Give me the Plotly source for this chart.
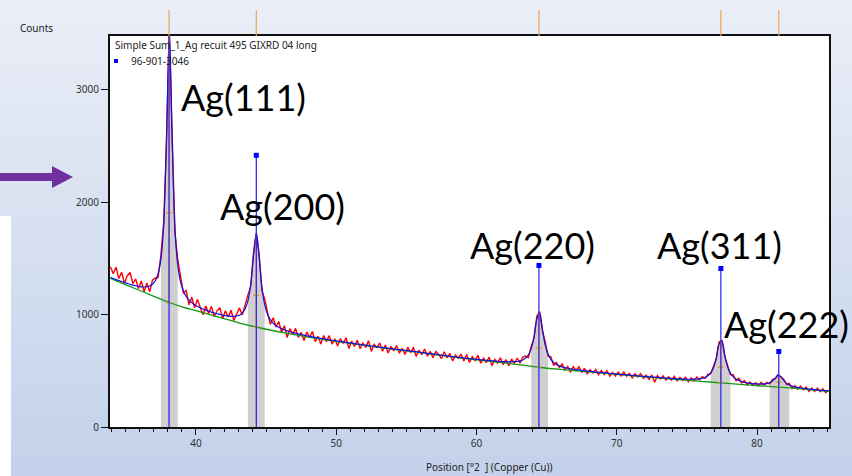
import numpy as np
import plotly.graph_objects as go

# scan grid, 2theta in degrees
two_theta = np.round(33.9 + 0.2 * np.arange(257), 2)

counts = [
    1427, 1364, 1422, 1321, 1377, 1277, 1346, 1375, 1277, 1317,
    1232, 1299, 1203, 1279, 1204, 1307, 1327, 1330, 1530, 1825,
    2544, 3536, 2596, 1733, 1489, 1359, 1194, 1214, 1087, 1155,
    1062, 1134, 1070, 999, 1077, 1011, 1074, 981, 1034, 1062,
    964, 1034, 979, 1039, 948, 1013, 1060, 998, 1094, 1174,
    1251, 1546, 1718, 1542, 1211, 1140, 1021, 913, 973, 890,
    939, 842, 902, 796, 874, 824, 878, 797, 843, 770,
    846, 798, 850, 760, 807, 738, 815, 760, 813, 738,
    785, 721, 787, 743, 794, 698, 766, 716, 773, 698,
    746, 708, 768, 673, 735, 706, 748, 674, 730, 658,
    718, 677, 725, 657, 699, 645, 710, 662, 710, 627,
    684, 643, 694, 630, 673, 616, 672, 646, 608, 670,
    616, 655, 589, 640, 611, 648, 588, 645, 575, 626,
    590, 638, 567, 613, 573, 622, 546, 601, 568, 617,
    556, 600, 546, 606, 567, 614, 568, 623, 631, 617,
    718, 791, 985, 1026, 856, 758, 632, 624, 547, 575,
    529, 562, 506, 538, 488, 537, 503, 535, 485, 523,
    471, 510, 481, 512, 464, 503, 467, 501, 453, 486,
    454, 488, 453, 489, 452, 477, 436, 475, 446, 474,
    433, 461, 424, 463, 399, 457, 427, 455, 417, 446,
    417, 452, 411, 443, 415, 444, 402, 437, 411, 444,
    420, 449, 434, 468, 476, 539, 610, 758, 770, 628,
    554, 467, 465, 412, 433, 393, 413, 375, 401, 371,
    393, 365, 397, 374, 398, 382, 424, 429, 466, 443,
    426, 379, 388, 343, 369, 337, 365, 332, 356, 317,
    346, 317, 347, 315, 340, 305, 330,
]

fit = [
    1332, 1322, 1312, 1304, 1295, 1286, 1278, 1270, 1263, 1257,
    1252, 1248, 1246, 1248, 1255, 1270, 1301, 1364, 1495, 1805,
    2584, 3511, 2566, 1768, 1441, 1291, 1211, 1163, 1130, 1107,
    1088, 1074, 1061, 1050, 1040, 1031, 1023, 1015, 1008, 1002,
    995, 991, 988, 985, 985, 989, 995, 1015, 1051, 1123,
    1266, 1526, 1728, 1517, 1245, 1089, 1004, 956, 925, 904,
    888, 876, 865, 856, 848, 841, 835, 828, 823, 818,
    812, 807, 802, 797, 793, 789, 784, 780, 776, 772,
    768, 764, 761, 757, 753, 749, 746, 742, 739, 735,
    732, 728, 725, 721, 718, 715, 711, 708, 704, 701,
    698, 694, 691, 688, 685, 682, 679, 676, 673, 670,
    667, 663, 660, 656, 653, 650, 646, 643, 639, 636,
    633, 629, 626, 623, 620, 617, 614, 611, 609, 606,
    604, 601, 598, 596, 593, 591, 589, 587, 585, 583,
    582, 580, 580, 580, 581, 583, 588, 597, 614, 643,
    698, 801, 960, 1016, 871, 728, 647, 601, 574, 557,
    544, 535, 529, 523, 518, 514, 511, 508, 503, 500,
    498, 495, 493, 489, 487, 485, 482, 480, 477, 474,
    472, 470, 468, 466, 464, 462, 459, 457, 455, 453,
    451, 449, 447, 445, 444, 442, 439, 437, 435, 434,
    432, 431, 429, 428, 427, 426, 425, 425, 426, 426,
    429, 434, 442, 456, 482, 529, 618, 743, 760, 638,
    536, 479, 447, 427, 415, 405, 398, 393, 389, 386,
    384, 383, 382, 383, 386, 394, 409, 435, 461, 448,
    414, 388, 373, 364, 357, 352, 347, 344, 341, 338,
    334, 332, 329, 327, 325, 323, 321,
]

bg_x = [33.9, 35, 36, 37, 38.1, 39, 40, 41, 42, 43, 44.3, 45, 46, 47, 48, 50, 52, 54,
        56, 58, 60, 62, 64.45, 66, 68, 70, 72, 74, 76, 77.4, 79, 81.5, 83, 85.1]
bg_y = [1322, 1265, 1215, 1163, 1108, 1070, 1035, 1000, 965, 930, 890, 870, 845, 822, 800, 762, 727, 693,
        662, 628, 598, 570, 532, 512, 491, 468, 447, 426, 406, 393, 378, 355, 341, 318]

# reference pattern 96-901-3046 (Ag)
ref_pos = [38.08, 44.30, 64.45, 77.42, 81.55]
ref_int = [3510, 2418, 1438, 1411, 672]
ref_labels = ["Ag(111)", "Ag(200)", "Ag(220)", "Ag(311)", "Ag(222)"]

# peak list markers
peak_bg = [1103, 889, 531, 393, 355]
peak_top = [3511, 1728, 1016, 760, 461]
peak_mark = [1907, 1171, 702, 533, 400]
band_lo = [37.43, 43.63, 63.76, 76.64, 80.77]
band_hi = [38.74, 44.97, 65.16, 78.23, 82.41]

# plot area in pixels: x 110..829, y 36..427
def px(x):
    return (x - 110) / 719

def py(y):
    return (427 - y) / 391

fig = go.Figure()

fit_arr = np.array(fit)
for lo, hi in zip(band_lo, band_hi):
    m = (two_theta >= lo - 0.05) & (two_theta <= hi + 0.05)
    fig.add_trace(go.Scatter(x=two_theta[m], y=fit_arr[m], mode='lines', fill='tozeroy',
                             fillcolor='#CFCFCF', line=dict(width=0, color='#CFCFCF'),
                             hoverinfo='skip', showlegend=False))

fig.add_trace(go.Scatter(x=two_theta, y=counts, mode='lines', line=dict(color='#FF0000', width=1.4),
                         showlegend=False))
fig.add_trace(go.Scatter(x=bg_x, y=bg_y, mode='lines', line=dict(color='#119911', width=1.3, shape='spline'),
                         showlegend=False))
fig.add_trace(go.Scatter(x=two_theta, y=fit, mode='lines', line=dict(color='#1010E0', width=1.2, shape='spline'),
                         showlegend=False))

# orange peak markers
ox, oy = [], []
for p, b, t, mk in zip(ref_pos, peak_bg, peak_top, peak_mark):
    ox += [p, p, None, p - 0.22, p + 0.22, None, p - 0.15, p + 0.15, None]
    oy += [b, t, None, mk, mk, None, b, b, None]
fig.add_trace(go.Scatter(x=ox, y=oy, mode='lines', line=dict(color='#F0902A', width=1.2),
                         hoverinfo='skip', showlegend=False))

# reference sticks
sx, sy = [], []
for p, i in zip(ref_pos, ref_int):
    sx += [p, p, None]
    sy += [0, i, None]
fig.add_trace(go.Scatter(x=sx, y=sy, mode='lines', line=dict(color='#2020F0', width=1.2),
                         hoverinfo='skip', showlegend=False))
fig.add_trace(go.Scatter(x=ref_pos, y=ref_int, mode='markers', cliponaxis=False,
                         marker=dict(symbol='square', size=5, color='#0000FF'), showlegend=False))

# page background gradient
shapes = []
n = 40
top_c = np.array([234, 238, 247])
bot_c = np.array([196, 211, 235])
for i in range(n):
    c = top_c + (bot_c - top_c) * i / (n - 1)
    y0 = i * 476 / n
    y1 = (i + 1) * 476 / n + 0.5
    shapes.append(dict(type='rect', xref='paper', yref='paper', layer='below',
                       x0=px(0), x1=px(852), y0=py(y0), y1=py(y1), line=dict(width=0),
                       fillcolor='rgb(%d,%d,%d)' % tuple(c)))
shapes.append(dict(type='rect', xref='paper', yref='paper', layer='below', x0=0, x1=1, y0=0, y1=1,
                   line=dict(width=0), fillcolor='white'))
# white box and purple arrow at left
shapes.append(dict(type='rect', xref='paper', yref='paper', x0=px(0), x1=px(11), y0=py(216), y1=py(476),
                   line=dict(width=0), fillcolor='white'))
shapes.append(dict(type='rect', xref='paper', yref='paper', x0=px(0), x1=px(53), y0=py(173), y1=py(181),
                   line=dict(width=0), fillcolor='#7030A0'))
shapes.append(dict(type='path', xref='paper', yref='paper',
                   path='M %f,%f L %f,%f L %f,%f Z' % (px(52), py(166), px(73), py(177), px(52), py(188)),
                   line=dict(width=0), fillcolor='#7030A0'))
# orange marks above the plot
for p in ref_pos:
    shapes.append(dict(type='line', xref='x', yref='paper', x0=p, x1=p, y0=1, y1=py(10),
                       line=dict(color='#F5A050', width=1.2)))

small = dict(family='Noto Sans', size=10, color='#222222')
big = dict(family='Lato', size=36, color='#000000')


def note(text, x, y, font, anchor='center'):
    return dict(text=text, x=px(x), y=py(y), xref='paper', yref='paper', showarrow=False,
                xanchor=anchor, yanchor='middle', font=font)


ann = [
    note('Counts', 36, 28, small),
    note('Position [°2  ] (Copper (Cu))', 489, 467, small),
    note('Simple Sum_1_Ag recuit 495 GIXRD 04 long', 113, 45, small, 'left'),
    note('96-901-3046', 129, 61, small, 'left'),
]
shapes.append(dict(type='rect', xref='paper', yref='paper', x0=px(114), x1=px(118), y0=py(59), y1=py(63),
                   line=dict(width=0), fillcolor='#0000FF'))
label_pos = [(243, 97), (282, 206), (532, 245), (719, 245), (786, 324)]
for t, (lx, ly) in zip(ref_labels, label_pos):
    ann.append(note(t, lx, ly, big))

fig.update_layout(
    width=852, height=476,
    margin=dict(l=110, r=23, t=36, b=49),
    paper_bgcolor='rgb(215,224,241)',
    plot_bgcolor='white',
    shapes=shapes,
    annotations=ann,
    showlegend=False,
)
fig.update_xaxes(range=[33.87, 85.13], showgrid=False, zeroline=False, showline=True, linecolor='#111111',
                 linewidth=2, mirror=True, ticks='outside', ticklen=6, tickcolor='#111111', dtick=10, tick0=0,
                 minor=dict(ticks='outside', dtick=1, ticklen=3, tickcolor='#111111'),
                 tickfont=dict(family='Noto Sans', size=10, color='#333333'))
fig.update_yaxes(range=[0, 3480], showgrid=False, zeroline=False, showline=True, linecolor='#111111',
                 linewidth=2, mirror=True, ticks='outside', ticklen=7, tickcolor='#111111', dtick=1000,
                 tickfont=dict(family='Noto Sans', size=10, color='#333333'))

fig.write_html("out.html", config={'displayModeBar': False},
               post_script="document.body.style.margin='0';")
